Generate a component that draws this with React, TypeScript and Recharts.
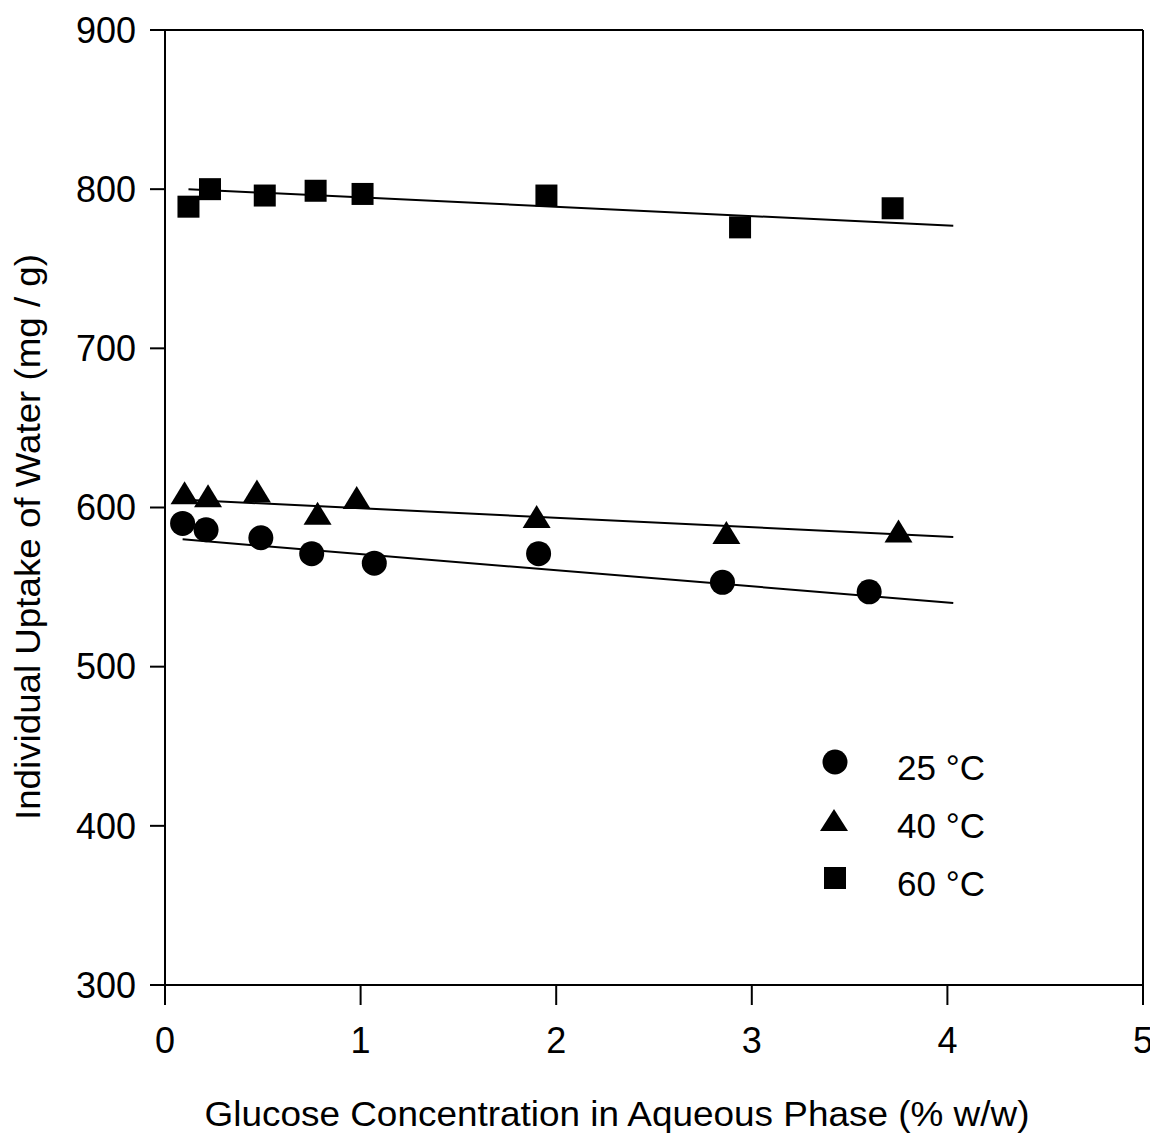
import React from 'react';
import { ComposedChart, Scatter, XAxis, YAxis, Legend, ReferenceLine } from 'recharts';

const FONT = '"Liberation Sans", Arial, Helvetica, sans-serif';
const NARROW = '"Liberation Sans Narrow", "Arial Narrow", "Liberation Sans", Arial, sans-serif';

// Glucose concentration (% w/w) and uptake (mg/g) for each temperature
const x25 = [0.09, 0.21, 0.49, 0.75, 1.07, 1.91, 2.85, 3.6];
const y25 = [590, 586, 581, 571, 565, 571, 553, 547];
const x40 = [0.1, 0.22, 0.47, 0.78, 0.98, 1.9, 2.87, 3.75];
const y40 = [609, 607, 610, 596, 606, 594, 584, 585];
const x60 = [0.12, 0.23, 0.51, 0.77, 1.01, 1.95, 2.94, 3.72];
const y60 = [789, 800, 796, 799, 797, 796, 776, 788];

// Linear fit end points
const fitX25 = [0.09, 4.03];
const fitY25 = [580, 540];
const fitX40 = [0.08, 4.03];
const fitY40 = [605, 581.5];
const fitX60 = [0.12, 4.03];
const fitY60 = [800, 777];

const xTicks = [0, 1, 2, 3, 4, 5];
const yTicks = [300, 400, 500, 600, 700, 800, 900];
const legendLabels = ['25 °C', '40 °C', '60 °C'];

const zip = (xs: number[], ys: number[]) => xs.map((x, i) => ({ x, y: ys[i] }));

const d25 = zip(x25, y25);
const d40 = zip(x40, y40);
const d60 = zip(x60, y60);
const f25 = zip(fitX25, fitY25);
const f40 = zip(fitX40, fitY40);
const f60 = zip(fitX60, fitY60);

const CircleShape = (p: any) => <circle cx={p.cx} cy={p.cy} r={12.5} fill="#000" />;
const TriangleShape = (p: any) => (
  <polygon
    points={`${p.cx},${p.cy - 12} ${p.cx - 14},${p.cy + 11} ${p.cx + 14},${p.cy + 11}`}
    fill="#000"
  />
);
const SquareShape = (p: any) => <rect x={p.cx - 11} y={p.cy - 11} width={22} height={22} fill="#000" />;
const NoShape = () => <g />;

const LegendContent = () => (
  <svg width={220} height={180} style={{ display: 'block' }}>
    <circle cx={25} cy={32} r={12.5} fill="#000" />
    <polygon points="24,79 10,101 38,101" fill="#000" />
    <rect x={14} y={137} width={22} height={22} fill="#000" />
    {legendLabels.map((t, i) => (
      <text
        key={t}
        x={87}
        y={37 + i * 58}
        dominantBaseline="central"
        fontSize={35}
        fontFamily={FONT}
        fill="#000"
      >
        {t}
      </text>
    ))}
  </svg>
);

const XLabel = () => (
  <text
    x={609}
    y={1118}
    textAnchor="middle"
    fontSize={35}
    fontFamily={NARROW}
    fill="#000"
    textLength={825}
    lengthAdjust="spacingAndGlyphs"
  >
    Glucose Concentration in Aqueous Phase (% w/w)
  </text>
);

const YLabel = () => (
  <text
    x={0}
    y={0}
    transform="translate(19,529) rotate(-90)"
    textAnchor="middle"
    dominantBaseline="central"
    fontSize={35}
    fontFamily={NARROW}
    fill="#000"
    textLength={566}
    lengthAdjust="spacingAndGlyphs"
  >
    Individual Uptake of Water (mg / g)
  </text>
);

const tickStyle = { fontSize: 36, fill: '#000', fontFamily: FONT };
const axisStroke = { stroke: '#000', strokeWidth: 2 };

export default function App() {
  return (
    <div style={{ width: 1150, height: 1132, background: '#fff' }}>
      <ComposedChart
        width={1150}
        height={1132}
        margin={{ top: 22, right: 15, bottom: 0, left: 0 }}
      >
        <XAxis
          xAxisId="b"
          dataKey="x"
          type="number"
          domain={[0, 5]}
          ticks={xTicks}
          interval={0}
          height={155}
          tickSize={20}
          tickMargin={22}
          axisLine={axisStroke}
          tickLine={axisStroke}
          tick={tickStyle}
          label={{ content: <XLabel /> }}
        />
        <YAxis
          yAxisId="l"
          dataKey="y"
          type="number"
          domain={[300, 900]}
          ticks={yTicks}
          interval={0}
          width={157}
          tickSize={15}
          tickMargin={14}
          axisLine={axisStroke}
          tickLine={axisStroke}
          tick={tickStyle}
          label={{ content: <YLabel /> }}
        />
        <ReferenceLine xAxisId="b" yAxisId="l" y={900} stroke="#000" strokeWidth={2} />
        <ReferenceLine xAxisId="b" yAxisId="l" x={5} stroke="#000" strokeWidth={2} />
        <Scatter xAxisId="b" yAxisId="l" data={f25} shape={NoShape} line={{ stroke: '#000', strokeWidth: 2 }} isAnimationActive={false} legendType="none" />
        <Scatter xAxisId="b" yAxisId="l" data={f40} shape={NoShape} line={{ stroke: '#000', strokeWidth: 2 }} isAnimationActive={false} legendType="none" />
        <Scatter xAxisId="b" yAxisId="l" data={f60} shape={NoShape} line={{ stroke: '#000', strokeWidth: 2 }} isAnimationActive={false} legendType="none" />
        <Scatter xAxisId="b" yAxisId="l" data={d25} shape={CircleShape} isAnimationActive={false} name="25 °C" />
        <Scatter xAxisId="b" yAxisId="l" data={d40} shape={TriangleShape} isAnimationActive={false} name="40 °C" />
        <Scatter xAxisId="b" yAxisId="l" data={d60} shape={SquareShape} isAnimationActive={false} name="60 °C" />
        <Legend
          layout="horizontal"
          verticalAlign="middle"
          align="center"
          content={<LegendContent />}
          wrapperStyle={{ position: 'absolute', left: 802, top: 722, width: 220, height: 180 }}
        />
      </ComposedChart>
    </div>
  );
}
